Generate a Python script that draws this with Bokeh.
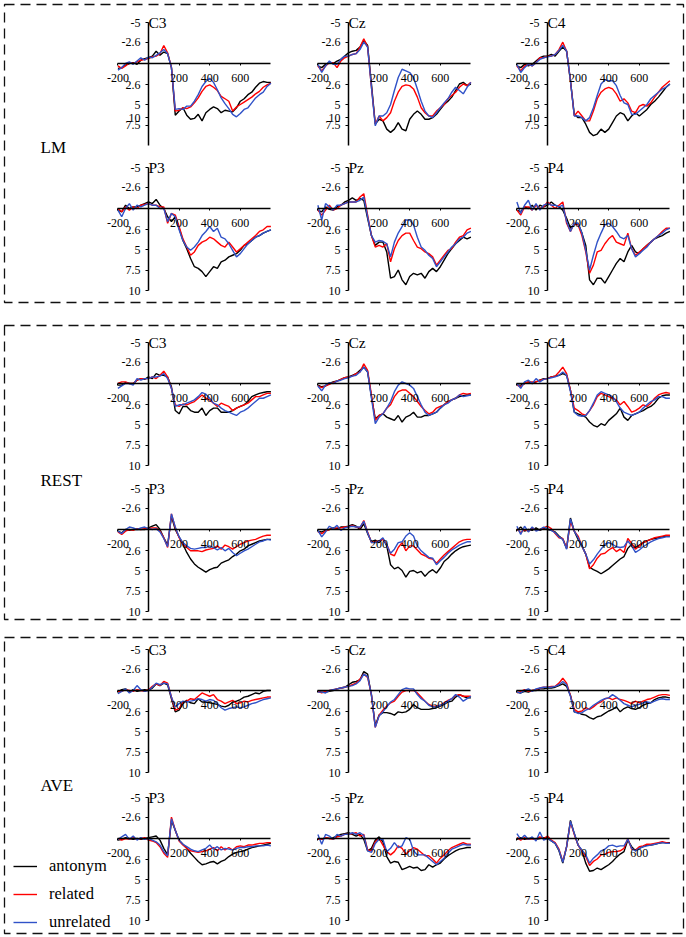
from bokeh.plotting import figure
from bokeh.models import (Range1d, LinearAxis, FixedTicker, NumeralTickFormatter,
                          Label, Legend, LegendItem)
from bokeh.layouts import column
from bokeh.embed import file_html
from bokeh.resources import INLINE

# ---------------- data ----------------
TIME_MS = list(range(-200, 801, 25))
CONDITIONS = ["antonym", "related", "unrelated"]
GROUPS = ["LM", "REST", "AVE"]
ELECTRODES = [["C3", "Cz", "C4"], ["P3", "Pz", "P4"]]
Y_TICKS = [-5, -2.6, 2.6, 5, 7.5, 10]
# the LM central row of the original prints its "10" label near 6.6 uV
Y_TICKS_LM_TOP = [-5, -2.6, 2.6, 5, 6.6, 7.5]
Y_LABELS_LM_TOP = {6.6: "10"}
X_TICKS = [-200, 200, 400, 600]

# ---- LM ----
LM_C3_ANT = [0.6, 0.5, 0.2, 0.0, -0.1, 0.1, -0.4, -0.6,
             -0.7, -0.9, -1.5, -1.0, -1.4, -1.2, 0.5, 6.3,
             5.8, 5.4, 6.3, 6.8, 6.7, 6.2, 7.0, 6.0,
             5.6, 5.3, 5.5, 6.0, 5.7, 5.8, 5.9, 5.4,
             4.6, 4.3, 3.8, 3.5, 2.9, 2.4, 2.2, 2.3, 2.3]
LM_C3_REL = [0.3, 0.6, 0.3, -0.1, 0.0, -0.2, -0.4, -0.5,
             -0.6, -0.8, -0.9, -1.2, -2.2, -1.3, 0.5, 5.8,
             5.7, 5.4, 5.5, 5.3, 4.8, 4.2, 3.4, 2.8,
             2.6, 2.9, 3.3, 4.0, 4.3, 4.6, 5.8, 5.3,
             5.0, 4.7, 4.4, 4.1, 3.7, 3.4, 2.9, 2.6, 2.4]
LM_C3_UNR = [0.8, 0.5, 0.0, -0.2, 0.1, -0.3, -0.7, -0.4,
             -0.8, -0.7, -1.0, -1.3, -1.7, -1.2, 0.5, 5.6,
             5.5, 5.6, 5.2, 5.2, 4.6, 3.8, 2.8, 2.2,
             1.8, 2.3, 3.2, 4.2, 4.9, 5.5, 6.2, 6.5,
             6.1, 5.6, 5.4, 4.8, 4.2, 3.8, 3.5, 2.8, 2.4]

LM_CZ_ANT = [0.3, 0.5, 0.1, -0.1, 0.0, -0.3, -0.5, -0.9,
             -1.3, -1.5, -1.6, -2.0, -2.8, -2.2, 2.5, 7.4,
             6.8, 7.0, 8.0, 8.4, 8.0, 7.2, 8.0, 8.2,
             6.8, 6.2, 5.8, 6.2, 6.8, 6.8, 6.6, 6.2,
             5.6, 5.0, 4.6, 4.1, 3.3, 2.5, 2.3, 2.7, 2.5]
LM_CZ_REL = [0.3, 0.9, 0.3, -0.1, -0.1, 0.5, -0.3, -0.7,
             -0.9, -1.1, -1.2, -2.0, -3.0, -2.0, 2.9, 7.4,
             6.4, 7.0, 6.6, 6.0, 4.6, 3.5, 2.8, 2.6,
             2.7, 3.1, 4.1, 5.4, 6.0, 6.4, 6.4, 5.8,
             5.4, 5.0, 4.3, 3.9, 3.5, 2.9, 2.5, 2.7, 2.3]
LM_CZ_UNR = [0.1, 1.1, 0.3, -0.3, 0.1, 0.1, -0.5, -0.9,
             -0.9, -1.1, -1.2, -1.7, -2.6, -2.0, 2.9, 7.6,
             6.4, 6.4, 6.0, 5.0, 3.3, 1.7, 0.7, 0.9,
             1.1, 1.7, 3.1, 4.6, 5.8, 6.4, 6.6, 6.0,
             5.4, 4.8, 4.3, 3.5, 2.9, 3.3, 3.7, 2.9, 2.3]

LM_C4_ANT = [0.3, 0.5, 0.1, 0.3, 0.1, -0.3, -0.7, -0.9,
             -0.9, -1.1, -0.9, -1.5, -2.0, -1.5, 2.1, 6.2,
             6.6, 6.6, 7.4, 8.4, 8.8, 8.6, 8.0, 8.4,
             8.0, 7.2, 6.4, 6.0, 6.2, 7.0, 6.4, 6.0,
             6.4, 6.0, 5.6, 5.0, 4.6, 4.1, 3.5, 2.9, 2.5]
LM_C4_REL = [0.3, 0.9, 0.3, 0.1, 0.3, -0.1, -0.7, -0.7,
             -0.9, -0.9, -1.1, -1.7, -2.6, -1.5, 2.1, 6.4,
             5.8, 6.4, 7.0, 7.0, 5.8, 4.3, 3.5, 3.1,
             2.9, 3.1, 3.7, 4.6, 4.3, 4.8, 5.8, 6.0,
             5.2, 5.0, 5.2, 4.8, 4.1, 3.5, 2.9, 2.5, 2.1]
LM_C4_UNR = [0.1, 1.1, 0.5, 0.1, 0.3, -0.1, -0.5, -0.7,
             -0.8, -0.9, -1.1, -1.6, -2.2, -1.5, 2.1, 6.4,
             6.4, 6.6, 7.0, 6.6, 5.4, 3.9, 2.5, 2.0,
             2.1, 2.1, 2.7, 3.9, 4.8, 5.0, 6.2, 6.2,
             5.8, 5.4, 5.0, 4.3, 3.9, 3.5, 3.1, 2.9, 2.5]

LM_P3_ANT = [0.2, 0.4, -0.4, 0.0, -0.2, -0.2, -0.4, -0.6,
             -0.8, -0.6, -1.1, -0.4, 0.0, 1.0, 1.6, 1.0,
             2.4, 3.9, 4.9, 6.1, 7.1, 7.3, 7.7, 8.3,
             7.7, 7.1, 7.3, 6.5, 6.3, 5.9, 5.7, 5.5,
             5.1, 4.5, 4.3, 3.9, 3.5, 3.3, 3.0, 2.8, 2.6]
LM_P3_REL = [0.0, 0.4, -0.2, 0.2, -0.2, 0.0, -0.4, -0.5,
             -0.6, -0.4, -0.4, -0.2, -0.2, 1.8, 0.6, 0.8,
             2.2, 3.7, 4.7, 5.7, 5.3, 4.5, 4.1, 3.9,
             3.5, 3.7, 4.1, 4.5, 4.7, 4.1, 4.7, 5.3,
             4.9, 4.5, 4.1, 3.7, 3.3, 2.8, 2.6, 2.2, 2.2]
LM_P3_UNR = [0.2, 1.0, 0.0, -0.6, 0.2, -0.4, -0.2, -0.4,
             -0.6, -0.4, -0.4, 0.0, 0.0, 1.6, 0.6, 1.0,
             2.6, 3.9, 4.7, 5.1, 4.7, 4.1, 3.3, 2.8,
             2.2, 2.8, 2.4, 3.5, 3.7, 4.3, 5.1, 5.9,
             5.5, 4.9, 4.3, 3.9, 3.5, 3.3, 3.0, 2.8, 2.6]

LM_PZ_ANT = [0.2, 0.4, -0.2, 0.1, 0.2, -0.2, -0.4, -0.8,
             -1.0, -1.3, -1.0, -1.2, -1.0, 1.2, 3.3, 4.5,
             4.1, 4.1, 5.3, 8.5, 8.3, 7.5, 8.7, 9.3,
             8.3, 7.9, 8.1, 7.9, 8.5, 7.7, 7.3, 7.7,
             7.1, 6.3, 5.5, 4.9, 4.3, 3.9, 3.5, 3.7, 3.5]
LM_PZ_REL = [0.2, 0.8, 0.2, -0.4, 0.2, 0.0, -0.4, -0.6,
             -0.8, -0.8, -0.8, -1.4, -1.8, 0.8, 3.3, 4.7,
             4.5, 4.7, 4.3, 6.5, 4.9, 3.9, 3.3, 3.0,
             3.0, 3.9, 4.7, 4.9, 5.3, 5.5, 5.9, 6.9,
             6.3, 5.7, 5.1, 4.9, 4.1, 3.5, 3.3, 2.6, 2.4]
LM_PZ_UNR = [-0.4, 1.4, -0.6, -0.2, 0.2, -0.4, -0.4, -0.6,
             -0.8, -0.8, -0.8, -1.0, -1.4, 1.0, 3.3, 4.1,
             3.9, 4.0, 4.3, 5.9, 4.1, 3.0, 2.2, 1.4,
             1.4, 2.0, 3.5, 4.7, 5.1, 5.7, 6.1, 7.1,
             6.5, 5.9, 5.3, 4.7, 4.3, 3.7, 3.5, 3.0, 2.8]

LM_P4_ANT = [0.2, 0.4, -0.2, 0.0, -0.4, 0.2, -0.4, -0.2,
             -0.4, -0.8, -0.4, -0.2, 0.2, 1.2, 2.4, 2.0,
             1.8, 3.0, 4.5, 8.7, 9.3, 8.5, 8.5, 9.1,
             8.3, 7.5, 6.7, 6.1, 6.5, 5.3, 4.5, 5.3,
             5.5, 4.9, 4.5, 4.1, 3.7, 3.5, 3.3, 3.0, 2.8]
LM_P4_REL = [0.2, 0.8, -0.2, -0.2, 0.2, -0.4, 0.0, -0.2,
             -0.8, -0.4, 0.0, -0.4, -0.8, 1.8, 2.8, 1.8,
             2.0, 3.3, 5.3, 7.9, 6.9, 5.3, 5.1, 4.3,
             3.7, 3.3, 4.1, 4.3, 4.5, 3.0, 4.9, 5.7,
             5.3, 4.9, 4.5, 4.1, 3.7, 3.3, 2.8, 2.4, 2.4]
LM_P4_UNR = [-0.8, 0.6, -0.4, -1.0, 0.2, -0.6, 0.2, -0.4,
             -0.6, -0.4, -0.4, -0.2, -0.4, 1.6, 2.8, 1.8,
             1.8, 3.0, 5.1, 7.5, 5.7, 4.1, 3.0, 2.0,
             1.8, 2.2, 2.8, 3.5, 3.7, 3.3, 4.9, 5.9,
             5.5, 5.1, 4.7, 4.1, 3.7, 3.3, 3.0, 2.6, 2.4]

# ---- REST ----
REST_C3_ANT = [0.2, 0.2, -0.1, 0.0, 0.0, -0.4, -0.6, -0.5,
               -0.8, -0.6, -1.2, -1.0, -1.0, -0.8, 0.4, 3.3,
               3.7, 2.8, 2.8, 3.3, 3.5, 3.5, 3.0, 3.9,
               3.3, 3.0, 3.0, 3.5, 3.5, 3.5, 3.3, 3.0,
               2.8, 2.6, 2.2, 1.6, 1.4, 1.2, 1.1, 1.0, 1.0]
REST_C3_REL = [0.0, -0.2, -0.2, 0.0, 0.0, -0.4, -0.6, -0.6,
               -0.6, -0.8, -0.6, -1.0, -1.5, -0.8, 0.6, 2.6,
               2.8, 2.5, 2.6, 2.4, 2.2, 1.8, 1.4, 1.8,
               2.0, 2.4, 2.8, 2.4, 2.6, 2.8, 3.3, 3.0,
               2.8, 2.6, 2.4, 2.0, 1.6, 1.6, 1.4, 1.2, 1.2]
REST_C3_UNR = [0.6, 0.3, 0.0, 0.0, 0.2, -0.6, -0.4, -0.6,
               -0.6, -0.8, -0.8, -0.9, -1.2, -0.6, 0.6, 2.8,
               2.6, 2.6, 2.4, 2.2, 2.0, 1.6, 1.1, 1.3,
               1.8, 2.4, 2.6, 3.0, 3.3, 3.5, 3.7, 3.9,
               3.5, 3.3, 3.0, 2.6, 2.2, 1.8, 1.8, 1.6, 1.4]

REST_CZ_ANT = [0.2, 0.4, 0.3, 0.0, -0.2, -0.3, -0.5, -0.7,
               -0.8, -1.0, -1.2, -1.6, -2.0, -1.4, 1.6, 4.3,
               3.9, 3.7, 4.1, 4.3, 4.5, 3.9, 4.7, 4.1,
               3.9, 3.5, 4.1, 4.1, 3.9, 3.9, 3.7, 3.5,
               3.0, 2.6, 2.2, 2.0, 1.8, 1.6, 1.5, 1.4, 1.4]
REST_CZ_REL = [0.3, 0.5, 0.3, 0.1, -0.1, -0.3, -0.5, -0.7,
               -0.8, -0.9, -1.2, -1.4, -2.4, -1.6, 1.4, 4.5,
               3.9, 3.7, 3.0, 2.6, 1.6, 1.0, 0.8, 0.8,
               1.2, 1.6, 2.2, 2.8, 3.3, 3.7, 3.5, 3.0,
               2.8, 2.6, 2.2, 2.0, 1.8, 1.4, 1.2, 1.3, 1.2]
REST_CZ_UNR = [0.3, 0.9, 0.2, -0.1, 0.0, -0.3, -0.4, -0.6,
               -0.7, -0.9, -1.0, -1.4, -2.0, -1.4, 1.8, 4.9,
               4.1, 3.7, 3.0, 2.2, 1.0, 0.2, -0.2, 0.0,
               0.2, 0.6, 1.6, 2.6, 3.5, 3.9, 3.7, 3.5,
               3.0, 2.6, 2.4, 2.0, 1.8, 1.4, 1.6, 1.5, 1.4]

REST_C4_ANT = [0.2, 0.2, 0.0, -0.2, 0.0, -0.2, -0.4, -0.6,
               -0.6, -0.8, -0.9, -1.0, -1.2, -1.0, 0.8, 3.5,
               3.7, 3.9, 4.1, 4.7, 5.1, 5.3, 4.9, 5.1,
               4.5, 4.1, 3.7, 3.0, 4.1, 4.5, 3.9, 3.7,
               3.5, 3.3, 3.0, 2.8, 2.4, 1.8, 1.5, 1.4, 1.4]
REST_C4_REL = [0.2, 0.4, 0.0, -0.2, -0.2, -0.2, -0.4, -0.5,
               -0.6, -0.8, -0.9, -1.4, -2.0, -1.2, 0.8, 3.0,
               3.3, 3.7, 3.9, 3.3, 2.6, 1.6, 1.2, 1.4,
               1.6, 1.8, 2.0, 2.6, 2.2, 2.8, 3.5, 3.3,
               3.0, 2.6, 2.8, 2.4, 1.8, 1.4, 1.2, 1.1, 1.2]
REST_C4_UNR = [0.0, 0.6, -0.2, -0.4, 0.0, -0.6, -0.2, -0.5,
               -0.6, -0.7, -0.8, -1.0, -1.4, -1.0, 1.0, 3.5,
               3.9, 4.0, 3.9, 3.3, 2.4, 1.4, 1.0, 1.2,
               1.4, 1.6, 2.2, 3.0, 3.5, 3.7, 3.9, 3.7,
               3.5, 3.0, 2.6, 2.2, 2.0, 1.6, 1.6, 1.8, 1.8]

REST_P3_ANT = [0.2, 0.4, 0.0, 0.1, 0.0, 0.0, 0.0, 0.0,
               -0.2, -0.4, -0.6, 0.0, 1.0, 1.9, -1.6, 0.0,
               0.9, 1.8, 2.8, 3.6, 4.2, 4.6, 4.9, 5.2,
               4.9, 4.7, 4.6, 4.1, 3.9, 3.7, 3.3, 3.0,
               2.6, 2.4, 2.0, 1.8, 1.6, 1.4, 1.3, 1.2, 1.2]
REST_P3_REL = [0.3, 0.6, 0.2, 0.0, 0.1, -0.1, 0.0, -0.1,
               -0.1, -0.2, -0.2, 0.2, 1.0, 2.2, -1.9, -0.2,
               1.0, 1.8, 2.2, 2.6, 2.6, 2.6, 2.7, 2.5,
               2.4, 2.3, 2.0, 2.4, 1.9, 2.1, 2.4, 2.1,
               1.8, 1.6, 1.4, 1.3, 1.2, 1.0, 0.8, 0.7, 0.7]
REST_P3_UNR = [0.2, 0.5, 0.0, -0.3, -0.2, 0.0, -0.2, -0.3,
               -0.1, 0.0, -0.1, 0.3, 1.1, 2.1, -1.9, -0.3,
               0.9, 1.6, 2.0, 2.3, 2.4, 2.3, 2.2, 2.2,
               2.0, 2.2, 2.5, 2.2, 2.6, 2.3, 2.8, 3.2,
               2.9, 2.6, 2.4, 2.1, 1.8, 1.5, 1.4, 1.2, 1.3]

REST_PZ_ANT = [0.2, 0.3, 0.1, 0.0, -0.2, -0.1, -0.3, -0.3,
               -0.4, -0.6, -0.4, 0.0, -0.7, 0.5, 1.5, 1.3,
               1.6, 1.1, 2.0, 4.3, 4.8, 4.6, 5.0, 5.8,
               5.1, 5.0, 5.3, 5.1, 5.7, 5.2, 4.9, 5.3,
               4.7, 3.9, 3.5, 3.0, 2.6, 2.3, 2.1, 2.0, 1.9]
REST_PZ_REL = [0.3, 0.5, 0.2, 0.0, -0.1, -0.2, -0.2, -0.3,
               -0.3, -0.5, -0.3, -0.2, -1.1, 0.3, 1.6, 1.5,
               1.4, 1.2, 1.8, 3.0, 3.2, 2.2, 1.6, 2.6,
               2.0, 2.0, 2.5, 3.0, 3.2, 3.5, 3.6, 4.1,
               3.6, 3.1, 2.7, 2.3, 1.9, 1.5, 1.3, 1.2, 1.2]
REST_PZ_UNR = [0.1, 0.9, 0.3, -0.4, -0.1, -0.5, 0.1, -0.2,
               -0.3, -0.4, -0.3, -0.3, -1.0, 0.4, 1.6, 1.6,
               1.4, 1.0, 1.9, 2.9, 2.4, 1.6, 1.5, 0.8,
               0.4, 0.8, 2.0, 2.6, 3.0, 3.4, 3.5, 4.3,
               3.8, 3.4, 2.9, 2.5, 2.2, 1.9, 1.7, 1.5, 1.5]

REST_P4_ANT = [0.1, -0.3, 0.2, 0.0, 0.1, -0.2, 0.1, -0.1,
               0.0, 0.1, 0.3, 0.8, 1.2, 2.3, -1.4, 0.2,
               1.2, 2.0, 3.0, 4.6, 4.9, 5.1, 5.4, 5.1,
               4.8, 4.4, 4.0, 3.6, 3.3, 2.3, 1.8, 2.2,
               1.9, 1.6, 1.4, 1.2, 1.1, 1.0, 0.9, 0.8, 0.8]
REST_P4_REL = [-0.1, 0.4, 0.0, 0.2, -0.2, 0.1, 0.0, -0.2,
               -0.4, -0.1, 0.5, 1.0, 1.1, 2.3, -1.0, 0.2,
               0.8, 2.0, 3.0, 4.8, 4.3, 3.5, 3.0, 2.9,
               2.5, 2.2, 2.7, 2.4, 2.8, 1.1, 1.7, 2.4,
               2.0, 1.6, 1.4, 1.2, 1.0, 0.9, 0.8, 0.7, 0.7]
REST_P4_UNR = [-0.4, 0.6, -0.4, 0.3, -0.3, 0.2, 0.0, -0.3,
               -0.1, 0.1, 0.4, 0.9, 1.2, 2.4, -1.3, 0.2,
               1.0, 2.0, 3.0, 4.2, 3.7, 3.0, 2.4, 1.8,
               1.6, 1.8, 2.1, 2.2, 2.1, 1.4, 2.0, 2.8,
               2.5, 2.1, 1.8, 1.5, 1.3, 1.1, 1.0, 0.9, 0.9]

# ---- AVE ----
AVE_C3_ANT = [0.2, -0.1, -0.2, 0.2, -0.1, 0.1, 0.0, -0.1,
              0.0, -0.3, -0.8, -0.6, -0.9, -0.7, 1.0, 2.6,
              2.4, 1.6, 1.2, 1.5, 1.6, 1.0, 1.4, 1.4,
              1.5, 1.6, 1.7, 1.9, 2.0, 1.8, 1.4, 1.3,
              1.1, 0.8, 0.7, 0.5, 0.3, 0.4, 0.1, 0.0, 0.0]
AVE_C3_REL = [0.1, 0.1, -0.1, 0.0, 0.1, -0.1, 0.0, 0.1,
              -0.1, -0.5, -0.8, -0.6, -1.1, -0.9, 0.8, 2.4,
              2.2, 1.4, 1.3, 1.0, 1.1, 0.7, 0.3, 0.5,
              0.7, 0.5, 1.1, 1.3, 1.6, 1.4, 1.2, 1.6,
              1.5, 1.3, 1.4, 1.2, 1.1, 1.0, 0.9, 0.8, 0.8]
AVE_C3_UNR = [0.4, 0.1, -0.2, 0.3, 0.0, -0.6, -0.1, 0.1,
              0.0, -0.4, -0.9, -0.7, -0.9, -0.8, 0.8, 2.0,
              1.6, 1.3, 1.4, 1.3, 1.2, 1.0, 1.1, 1.3,
              1.1, 1.2, 1.6, 2.1, 2.4, 2.2, 2.1, 2.0,
              2.1, 2.0, 1.8, 1.6, 1.5, 1.3, 1.1, 1.0, 0.9]

AVE_CZ_ANT = [0.1, 0.2, 0.2, 0.1, 0.0, -0.2, -0.3, -0.4,
              -0.7, -1.0, -1.1, -1.3, -2.3, -2.0, 0.6, 4.3,
              3.0, 2.7, 2.7, 2.8, 3.0, 2.6, 2.7, 2.6,
              2.3, 1.7, 2.1, 2.3, 2.3, 2.3, 2.2, 2.1,
              1.9, 1.7, 1.4, 1.3, 0.8, 0.5, 0.7, 0.9, 0.9]
AVE_CZ_REL = [0.1, 0.3, 0.1, 0.0, -0.1, -0.2, -0.3, -0.4,
              -0.5, -0.7, -0.9, -1.4, -2.0, -1.6, 0.5, 4.5,
              3.0, 2.4, 1.9, 1.5, 1.3, 0.7, 0.2, 0.0,
              0.0, 0.0, 0.3, 0.8, 1.3, 1.7, 1.9, 1.9,
              1.8, 1.5, 1.2, 1.0, 0.6, 0.5, 0.7, 0.7, 0.7]
AVE_CZ_UNR = [0.2, 0.2, 0.3, 0.0, -0.1, -0.2, -0.3, -0.4,
              -0.5, -0.6, -0.8, -1.2, -2.0, -1.7, 0.5, 4.5,
              3.1, 2.6, 2.0, 1.4, 1.1, 0.5, -0.1, -0.3,
              -0.2, -0.2, 0.5, 1.0, 1.3, 1.8, 2.0, 2.0,
              1.8, 1.6, 1.3, 1.0, 0.5, 0.8, 1.3, 1.0, 0.7]

AVE_C4_ANT = [0.2, 0.3, 0.1, 0.2, 0.0, 0.0, -0.2, -0.2,
              -0.3, -0.3, -0.4, -0.6, -0.8, -0.5, 0.6, 2.6,
              2.7, 2.9, 3.0, 3.3, 3.5, 3.2, 3.1, 2.8,
              2.5, 2.3, 2.0, 2.6, 2.2, 2.0, 2.2, 2.3,
              2.1, 1.8, 1.6, 1.5, 1.1, 0.9, 0.8, 0.8, 0.9]
AVE_C4_REL = [0.3, 0.1, -0.1, 0.1, 0.0, -0.1, -0.3, -0.4,
              -0.4, -0.5, -0.5, -0.9, -1.5, -0.9, 0.6, 2.3,
              2.6, 2.5, 2.1, 2.3, 2.0, 1.6, 1.4, 1.0,
              0.9, 1.1, 0.9, 1.1, 1.2, 1.4, 1.6, 1.3,
              1.5, 1.3, 1.1, 1.0, 0.8, 0.6, 0.5, 0.5, 0.6]
AVE_C4_UNR = [0.2, 0.3, 0.0, -0.2, 0.1, -0.2, -0.3, -0.4,
              -0.4, -0.4, -0.5, -0.7, -1.1, -0.7, 0.7, 2.6,
              2.8, 2.7, 2.4, 2.2, 1.8, 1.5, 1.2, 1.0,
              0.9, 0.5, 0.8, 1.2, 1.6, 1.8, 2.0, 1.8,
              1.7, 1.5, 1.4, 1.5, 1.3, 1.1, 1.0, 1.1, 1.1]

AVE_P3_ANT = [0.2, 0.1, -0.1, 0.0, 0.1, 0.0, 0.1, 0.0,
              -0.1, -0.2, -0.3, 0.2, 1.2, 2.0, -2.2, -1.0,
              0.2, 0.7, 1.2, 1.8, 2.3, 2.8, 3.2, 3.1,
              2.9, 2.8, 3.1, 2.8, 2.6, 2.2, 1.9, 1.7,
              1.6, 1.5, 1.3, 1.1, 1.0, 0.9, 0.8, 0.7, 0.6]
AVE_P3_REL = [0.0, 0.2, 0.0, 0.1, -0.1, 0.1, 0.0, -0.1,
              0.2, 0.3, 0.5, 1.0, 1.8, 2.3, -2.6, -1.0,
              0.3, 0.8, 1.2, 1.5, 1.6, 1.7, 1.6, 1.5,
              1.3, 1.1, 1.5, 1.0, 1.4, 1.1, 1.4, 1.0,
              0.9, 1.0, 0.8, 0.8, 0.7, 0.6, 0.6, 0.5, 0.5]
AVE_P3_UNR = [0.1, -0.2, -0.5, 0.1, -0.3, 0.2, -0.1, 0.1,
              0.0, 0.2, 0.4, 0.8, 1.6, 2.1, -2.4, -1.0,
              0.2, 0.7, 1.0, 1.3, 1.5, 1.6, 1.4, 1.2,
              0.8, 1.3, 1.0, 1.4, 1.2, 1.3, 1.4, 1.2,
              1.1, 1.1, 1.0, 1.0, 0.9, 0.9, 0.9, 0.8, 0.9]

AVE_PZ_ANT = [0.0, 0.1, -0.1, 0.0, -0.1, -0.3, -0.5, -0.6,
              -0.7, -0.5, -0.3, -0.5, 0.1, 1.5, 1.2, 0.2,
              -0.2, 0.4, 2.2, 3.0, 2.8, 2.9, 3.8, 3.6,
              3.4, 3.6, 3.5, 3.9, 3.8, 3.2, 3.5, 3.2,
              3.0, 2.5, 2.1, 1.8, 1.5, 1.3, 1.2, 1.1, 1.1]
AVE_PZ_REL = [0.1, 0.1, -0.1, 0.0, 0.1, -0.2, -0.3, -0.5,
              -0.5, -0.6, -0.7, -0.3, -0.5, 1.4, 1.5, 0.4,
              0.0, 0.8, 1.6, 2.0, 1.6, 0.9, 1.2, 1.9,
              1.5, 1.1, 1.3, 1.7, 2.1, 2.1, 2.5, 3.0,
              2.4, 2.0, 1.5, 1.1, 0.9, 0.7, 0.5, 0.7, 0.7]
AVE_PZ_UNR = [-0.5, 0.7, -0.5, -0.3, 0.1, -0.5, -0.3, -0.5,
              -0.5, -0.7, -0.5, -0.7, -0.4, 1.5, 1.7, 0.6,
              0.1, 0.1, 1.6, 1.2, 0.5, 1.1, 0.9, -0.1,
              0.1, 1.5, 2.0, 2.0, 2.0, 2.4, 2.8, 3.2,
              2.8, 2.4, 1.8, 1.3, 1.1, 0.9, 0.7, 0.8, 0.8]

AVE_P4_ANT = [0.1, -0.1, 0.1, 0.0, 0.0, 0.1, 0.0, -0.1,
              -0.1, 0.3, 0.6, 1.5, 3.0, 1.0, -2.2, -0.6,
              0.8, 1.5, 3.0, 4.0, 3.9, 3.6, 3.8, 3.5,
              3.2, 2.8, 2.3, 1.9, 1.6, 0.2, 1.0, 1.5,
              1.2, 1.0, 0.8, 0.8, 0.7, 0.6, 0.5, 0.5, 0.5]
AVE_P4_REL = [-0.1, 0.2, -0.1, 0.1, 0.0, 0.1, -0.2, 0.0,
              -0.3, 0.2, 0.5, 1.3, 2.8, 1.0, -2.0, -0.5,
              0.8, 1.5, 2.2, 3.3, 2.8, 2.5, 2.0, 1.9,
              1.7, 1.6, 1.6, 1.5, 1.2, 0.0, 1.3, 1.4,
              1.0, 0.9, 0.7, 0.7, 0.6, 0.5, 0.4, 0.5, 0.6]
AVE_P4_UNR = [-0.6, 0.1, -0.4, 0.1, -0.2, 0.3, -0.8, 0.2,
              0.0, 0.3, 0.6, 1.4, 2.9, 1.0, -2.1, -0.6,
              0.8, 1.4, 2.0, 3.0, 2.4, 2.0, 1.5, 1.3,
              0.9, 0.8, 1.0, 0.9, 0.9, 0.1, 1.2, 1.5,
              1.2, 1.0, 0.9, 0.8, 0.7, 0.6, 0.5, 0.6, 0.6]

DATA = {
    ("LM", "C3"): (LM_C3_ANT, LM_C3_REL, LM_C3_UNR),
    ("LM", "Cz"): (LM_CZ_ANT, LM_CZ_REL, LM_CZ_UNR),
    ("LM", "C4"): (LM_C4_ANT, LM_C4_REL, LM_C4_UNR),
    ("LM", "P3"): (LM_P3_ANT, LM_P3_REL, LM_P3_UNR),
    ("LM", "Pz"): (LM_PZ_ANT, LM_PZ_REL, LM_PZ_UNR),
    ("LM", "P4"): (LM_P4_ANT, LM_P4_REL, LM_P4_UNR),
    ("REST", "C3"): (REST_C3_ANT, REST_C3_REL, REST_C3_UNR),
    ("REST", "Cz"): (REST_CZ_ANT, REST_CZ_REL, REST_CZ_UNR),
    ("REST", "C4"): (REST_C4_ANT, REST_C4_REL, REST_C4_UNR),
    ("REST", "P3"): (REST_P3_ANT, REST_P3_REL, REST_P3_UNR),
    ("REST", "Pz"): (REST_PZ_ANT, REST_PZ_REL, REST_PZ_UNR),
    ("REST", "P4"): (REST_P4_ANT, REST_P4_REL, REST_P4_UNR),
    ("AVE", "C3"): (AVE_C3_ANT, AVE_C3_REL, AVE_C3_UNR),
    ("AVE", "Cz"): (AVE_CZ_ANT, AVE_CZ_REL, AVE_CZ_UNR),
    ("AVE", "C4"): (AVE_C4_ANT, AVE_C4_REL, AVE_C4_UNR),
    ("AVE", "P3"): (AVE_P3_ANT, AVE_P3_REL, AVE_P3_UNR),
    ("AVE", "Pz"): (AVE_PZ_ANT, AVE_PZ_REL, AVE_PZ_UNR),
    ("AVE", "P4"): (AVE_P4_ANT, AVE_P4_REL, AVE_P4_UNR),
}

# ---------------- style / layout ----------------
COLORS = ["#000000", "#ff0000", "#3052c8"]
FONT = "Liberation Serif"
FIG_W = 686
BORDER_L, BORDER_R = 4, 3
FW = FIG_W - BORDER_L - BORDER_R          # frame width (dashed box)
# per group: (border top, frame height, border bottom)
GROUP_BOX = {"LM": (4, 298, 8), "REST": (15, 294, 6), "AVE": (12, 296, 4)}
PX_PER_MS = 0.153
PX_PER_UV = 8.2
COL_AXIS_X = [144, 344, 543]              # frame px of t = 0
ROW_TOP = {"LM": [18, 163], "REST": [17, 163], "AVE": [12, 160]}   # frame px of -5 uV
GROUP_LABEL_Y = {"LM": 143, "REST": 155, "AVE": 148}
GROUP_LABEL_X = 36


def make_group(g):
    bt, fh, bb = GROUP_BOX[g]
    p = figure(width=FIG_W, height=bt + fh + bb,
               x_range=Range1d(0, FW), y_range=Range1d(fh, 0),
               x_axis_type=None, y_axis_type=None, toolbar_location=None,
               output_backend="svg",
               min_border_left=BORDER_L, min_border_right=BORDER_R,
               min_border_top=bt, min_border_bottom=bb)
    p.outline_line_color = "#111111"
    p.outline_line_dash = "10 6"
    p.outline_line_width = 1.3
    p.background_fill_color = "white"
    p.border_fill_color = "white"

    legend_renderers = None
    for r, row in enumerate(ELECTRODES):
        for c, e in enumerate(row):
            name = f"{g}_{e}"
            ax0 = COL_AXIS_X[c]
            py5 = ROW_TOP[g][r]
            p.extra_x_ranges[name] = Range1d(-ax0 / PX_PER_MS, (FW - ax0) / PX_PER_MS)
            p.extra_y_ranges[name] = Range1d(-5 + (fh - py5) / PX_PER_UV, -5 - py5 / PX_PER_UV)

            ticks = Y_TICKS_LM_TOP if (g == "LM" and r == 0) else Y_TICKS
            yax = LinearAxis(x_range_name=name, y_range_name=name, fixed_location=0,
                             bounds=(Y_TICKS[0], Y_TICKS[-1]),
                             ticker=FixedTicker(ticks=ticks),
                             formatter=NumeralTickFormatter(format="0.[0]"))
            if g == "LM" and r == 0:
                yax.major_label_overrides = Y_LABELS_LM_TOP
            xax = LinearAxis(x_range_name=name, y_range_name=name, fixed_location=0,
                             bounds=(TIME_MS[0], TIME_MS[-1]),
                             ticker=FixedTicker(ticks=X_TICKS),
                             formatter=NumeralTickFormatter(format="0"))
            for ax in (yax, xax):
                ax.axis_line_color = "black"
                ax.axis_line_width = 1.5
                ax.major_tick_line_color = "black"
                ax.major_tick_line_width = 1
                ax.minor_tick_line_color = None
                ax.major_label_text_font = FONT
                ax.major_label_text_font_size = "12px"
                ax.major_label_text_color = "black"
            yax.major_tick_in = 0
            yax.major_tick_out = 3
            yax.major_label_standoff = 5
            xax.major_tick_in = 0
            xax.major_tick_out = 2
            xax.major_label_standoff = 8
            p.add_layout(yax, "left")
            p.add_layout(xax, "below")

            rends = []
            for vals, color in zip(DATA[(g, e)], COLORS):
                rends.append(p.line(TIME_MS, vals, x_range_name=name, y_range_name=name,
                                    line_color=color, line_width=1.4))
            legend_renderers = rends

            p.add_layout(Label(x=0, y=-5, x_range_name=name, y_range_name=name, text=e,
                               text_font=FONT, text_font_size="15.5px", text_color="black",
                               text_align="left", text_baseline="middle", x_offset=0))

    p.add_layout(Label(x=GROUP_LABEL_X, y=GROUP_LABEL_Y[g], text=g, text_font=FONT,
                       text_font_size="17px", text_color="black",
                       text_baseline="middle", text_align="left"))

    if g == "AVE":
        legend = Legend(items=[LegendItem(label=lab, renderers=[rr])
                               for lab, rr in zip(CONDITIONS, legend_renderers)],
                        location=(9, 1), orientation="vertical",
                        label_text_font=FONT, label_text_font_size="16.5px",
                        label_text_color="black",
                        glyph_width=24, glyph_height=20, label_height=20,
                        label_standoff=12, spacing=8, padding=0, margin=0,
                        background_fill_alpha=0, border_line_alpha=0)
        p.add_layout(legend)
    return p


figs = [make_group(g) for g in GROUPS]
layout = column(*figs, spacing=0)

open("out.html", "w").write(file_html(layout, INLINE, title="ERP waveforms"))
